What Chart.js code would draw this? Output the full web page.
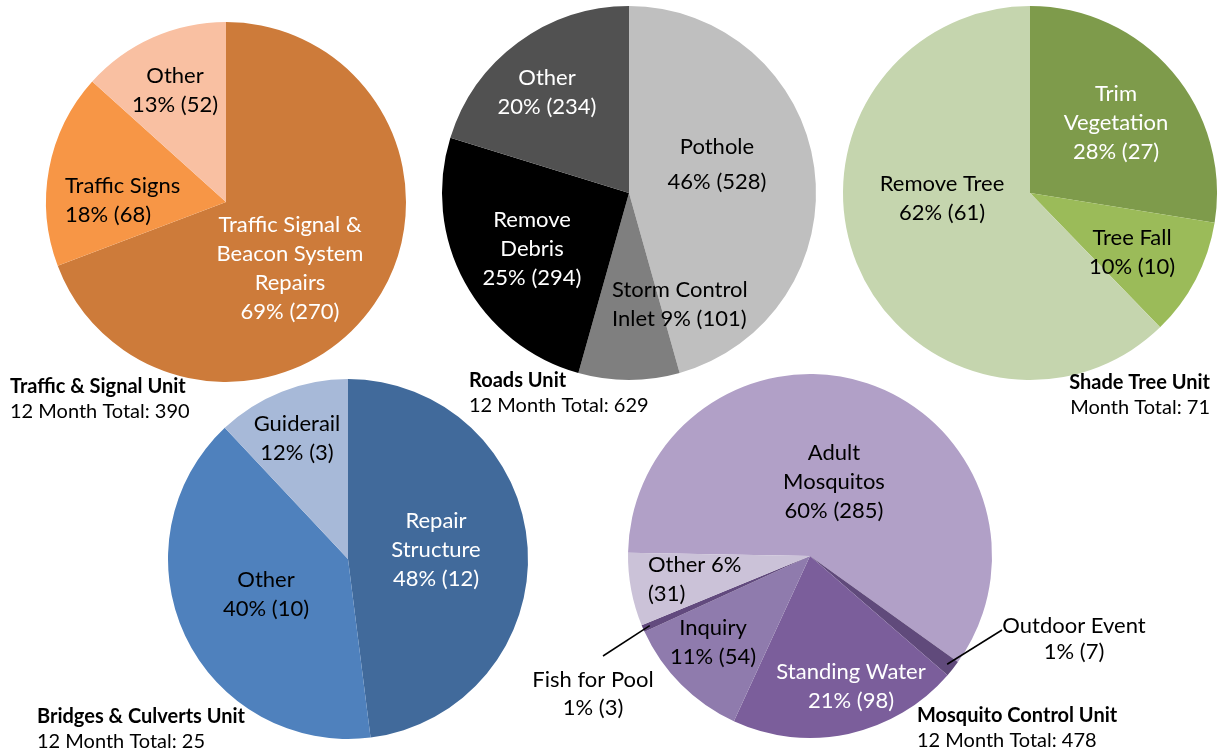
<!DOCTYPE html>
<html>
<head>
<meta charset="utf-8">
<script src="https://cdn.jsdelivr.net/npm/chart.js@4.4.1/dist/chart.umd.min.js"></script>
<style>
  body { margin: 0; background: #fff; }
  #wrap { position: relative; width: 1220px; height: 751px; }
  #wrap canvas { position: absolute; left: 0; top: 0; }
</style>
</head>
<body>
<div id="wrap">
  <canvas id="pieTraffic" width="1220" height="751"></canvas>
  <canvas id="pieRoads" width="1220" height="751"></canvas>
  <canvas id="pieShade" width="1220" height="751"></canvas>
  <canvas id="pieBridges" width="1220" height="751"></canvas>
  <canvas id="pieMosquito" width="1220" height="751"></canvas>
</div>
<script>
// data
var unitNames = ['Traffic & Signal Unit', 'Roads Unit', 'Shade Tree Unit', 'Bridges & Culverts Unit', 'Mosquito Control Unit'];
var unitTotals = [390, 629, 71, 25, 478];

var trafficLabels = ['Traffic Signal & Beacon System Repairs', 'Traffic Signs', 'Other'];
var trafficValues = [270, 68, 52];
var trafficPct = [69, 18, 13];

var roadsLabels = ['Pothole', 'Storm Control Inlet', 'Remove Debris', 'Other'];
var roadsValues = [528, 101, 294, 234];
var roadsPct = [46, 9, 25, 20];

var shadeLabels = ['Trim Vegetation', 'Tree Fall', 'Remove Tree'];
var shadeValues = [27, 10, 61];
var shadePct = [28, 10, 62];

var bridgesLabels = ['Repair Structure', 'Other', 'Guiderail'];
var bridgesValues = [12, 10, 3];
var bridgesPct = [48, 40, 12];

var mosquitoLabels = ['Adult Mosquitos', 'Outdoor Event', 'Standing Water', 'Inquiry', 'Fish for Pool', 'Other'];
var mosquitoValues = [285, 7, 98, 54, 3, 31];
var mosquitoPct = [60, 1, 21, 11, 1, 6];

var FONT = 'Lato, "Open Sans", sans-serif';
var W = 1220, H = 751;

// draws the text in the slices + the unit caption
var sliceLabels = {
  id: 'sliceLabels',
  afterDatasetsDraw: function(chart) {
    var ctx = chart.ctx;
    var o = chart.options.plugins.sliceLabels;
    var meta = chart.getDatasetMeta(0);
    var vals = chart.data.datasets[0].data;
    meta.data.forEach(function(arc, i) {
      var s = o.spots[i];
      var txt = o.text[i].replace('{p}', o.pct[i]).replace('{v}', vals[i]);
      var lines = txt.split('\n');
      var lh = s.lh || 29;
      ctx.save();
      ctx.font = '22px ' + FONT;
      ctx.fillStyle = s.c || '#000';
      ctx.textAlign = s.a || 'center';
      ctx.textBaseline = 'middle';
      var y0 = arc.y + s.y - (lines.length - 1) * lh / 2;
      lines.forEach(function(l, k) {
        ctx.fillText(l, arc.x + s.x, y0 + k * lh);
      });
      if (s.lead) {
        var mid = (arc.startAngle + arc.endAngle) / 2;
        var rr = arc.outerRadius * 0.96;
        ctx.beginPath();
        ctx.moveTo(arc.x + Math.cos(mid) * rr, arc.y + Math.sin(mid) * rr);
        ctx.lineTo(arc.x + s.lead[0], arc.y + s.lead[1]);
        ctx.strokeStyle = '#000';
        ctx.lineWidth = 1.5;
        ctx.stroke();
      }
      ctx.restore();
    });
    // caption under each pie
    var t = o.title;
    ctx.save();
    ctx.fillStyle = '#000';
    ctx.textAlign = t.a || 'left';
    ctx.textBaseline = 'middle';
    ctx.font = 'bold 20px ' + FONT;
    ctx.fillText(t.lines[0], t.x, t.y);
    ctx.font = '20px ' + FONT;
    ctx.fillText(t.lines[1], t.x, t.y + 25);
    ctx.restore();
  }
};

function makePie(id, labels, values, colors, pct, cx, cy, r, rot, text, spots, title) {
  var ctx = document.getElementById(id);
  return new Chart(ctx, {
    type: 'pie',
    data: {
      labels: labels,
      datasets: [{
        data: values,
        backgroundColor: colors,
        borderWidth: 0,
        hoverOffset: 0
      }]
    },
    options: {
      responsive: false,
      animation: false,
      events: [],
      rotation: rot,
      radius: r,
      layout: {
        padding: { left: cx - r, right: W - cx - r, top: cy - r, bottom: H - cy - r }
      },
      plugins: {
        legend: { display: false },
        tooltip: { enabled: false },
        sliceLabels: { text: text, pct: pct, spots: spots, title: title }
      }
    },
    plugins: [sliceLabels]
  });
}

makePie('pieTraffic', trafficLabels, trafficValues,
  ['#CD7B3A', '#F79646', '#F9C0A2'], trafficPct, 226, 202, 180, 0,
  ['Traffic Signal &\nBeacon System\nRepairs\n{p}% ({v})', 'Traffic Signs\n{p}% ({v})', 'Other\n{p}% ({v})'],
  [{x: 64, y: 66, c: '#fff'}, {x: -161, y: -2, a: 'left'}, {x: -51, y: -112}],
  {lines: [unitNames[0], '12 Month Total: ' + unitTotals[0]], x: 10, y: 387});

makePie('pieRoads', roadsLabels, roadsValues,
  ['#BFBFBF', '#7F7F7F', '#000000', '#515151'], roadsPct, 629, 193, 187, 0,
  ['Pothole\n{p}% ({v})', 'Storm Control\nInlet {p}% ({v})', 'Remove\nDebris\n{p}% ({v})', 'Other\n{p}% ({v})'],
  [{x: 88, y: -29, lh: 35}, {x: -17, y: 111, a: 'left'}, {x: -97, y: 56, c: '#fff'}, {x: -82, y: -101, c: '#fff'}],
  {lines: [unitNames[1], '12 Month Total: ' + unitTotals[1]], x: 469, y: 381});

makePie('pieShade', shadeLabels, shadeValues,
  ['#7E9B4B', '#9BBB59', '#C5D5AE'], shadePct, 1030, 193, 187, 0,
  ['Trim\nVegetation\n{p}% ({v})', 'Tree Fall\n{p}% ({v})', 'Remove Tree\n{p}% ({v})'],
  [{x: 86, y: -70, c: '#fff'}, {x: 102, y: 59}, {x: -88, y: 5}],
  {lines: [unitNames[2], 'Month Total: ' + unitTotals[2]], x: 1210, y: 383, a: 'right'});

makePie('pieBridges', bridgesLabels, bridgesValues,
  ['#416A9B', '#4F81BD', '#A7B9D8'], bridgesPct, 348, 559, 180, 0,
  ['Repair\nStructure\n{p}% ({v})', 'Other\n{p}% ({v})', 'Guiderail\n{p}% ({v})'],
  [{x: 88, y: -9, c: '#fff'}, {x: -82, y: 35}, {x: -51, y: -121}],
  {lines: [unitNames[3], '12 Month Total: ' + unitTotals[3]], x: 37, y: 717});

makePie('pieMosquito', mosquitoLabels, mosquitoValues,
  ['#B1A0C7', '#604A7B', '#7B5E9B', '#8F7BAD', '#624A7E', '#CBC2D8'], mosquitoPct, 810, 556, 182, 271,
  ['Adult\nMosquitos\n{p}% ({v})', 'Outdoor Event\n{p}% ({v})', 'Standing Water\n{p}% ({v})',
   'Inquiry\n{p}% ({v})', 'Fish for Pool\n{p}% ({v})', 'Other {p}%\n({v})'],
  [{x: 24, y: -74}, {x: 264, y: 83, lh: 26, lead: [192, 74]}, {x: 41, y: 130, c: '#fff'},
   {x: -97, y: 86}, {x: -217, y: 138, lh: 28, lead: [-207, 100]}, {x: -162, y: 23, a: 'left'}],
  {lines: [unitNames[4], '12 Month Total: ' + unitTotals[4]], x: 917, y: 716});

console.log('pies done');
</script>
</body>
</html>
